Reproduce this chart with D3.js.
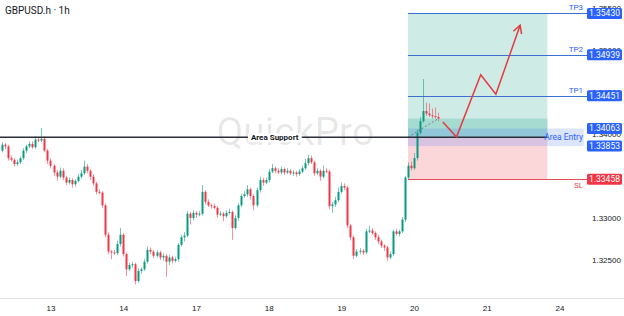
<!DOCTYPE html>
<html>
<head>
<meta charset="utf-8">
<script src="https://cdn.jsdelivr.net/npm/d3@7"></script>
<style>
  html, body { margin: 0; padding: 0; background: #fff; }
  svg { display: block; font-family: Roboto, "Noto Sans", sans-serif; }
</style>
</head>
<body>
<svg id="chart" width="624" height="316"></svg>
<script>
// hourly closes, from Fri 12th 08:00 to Tue 20th 08:00
const closes = [
  1.3387, 1.3385, 1.3371, 1.3369, 1.3364, 1.3366, 1.3371, 1.3380, 1.3385, 1.3388,
  1.3384, 1.3393, 1.3392, 1.3394, 1.3380, 1.3368, 1.3362, 1.3354, 1.3349, 1.3356,
  1.3348, 1.3342, 1.3345, 1.3340, 1.3344, 1.3349, 1.3353, 1.3361, 1.3356, 1.3349,
  1.3341, 1.3331, 1.3330, 1.3315, 1.3280, 1.3260, 1.3259, 1.3258, 1.3269, 1.3280,
  1.3257, 1.3239, 1.3244, 1.3245, 1.3225, 1.3237, 1.3239, 1.3248, 1.3262, 1.3260,
  1.3255, 1.3259, 1.3253, 1.3255, 1.3248, 1.3253, 1.3249, 1.3251, 1.3268, 1.3277,
  1.3279, 1.3305, 1.3300, 1.3306, 1.3304, 1.3305, 1.3331, 1.3319, 1.3315, 1.3314,
  1.3312, 1.3304, 1.3305, 1.3302, 1.3306, 1.3307, 1.3288, 1.3300, 1.3315, 1.3326,
  1.3328, 1.3334, 1.3326, 1.3315, 1.3333, 1.3345, 1.3342, 1.3345, 1.3355, 1.3359,
  1.3356, 1.3354, 1.3358, 1.3354, 1.3356, 1.3353, 1.3354, 1.3352, 1.3355, 1.3359,
  1.3365, 1.3371, 1.3366, 1.3353, 1.3356, 1.3349, 1.3356, 1.3355, 1.3314, 1.3316,
  1.3321, 1.3331, 1.3338, 1.3336, 1.3291, 1.3277, 1.3255, 1.3260, 1.3261, 1.3259,
  1.3284, 1.3285, 1.3282, 1.3277, 1.3272, 1.3267, 1.3265, 1.3253, 1.3257, 1.3284,
  1.3281, 1.3284, 1.3298, 1.3348, 1.3362, 1.3359, 1.3371, 1.3401, 1.3415, 1.3427,
  1.3424, 1.3422, 1.3421, 1.3420, 1.3418
];
const firstOpen = 1.3380;

// wick lengths above / below the body, in pips
const wickUp = [
  3,2,2,3,2,3,2,3,2,3, 3,4,3,13,3,2,3,2,3,4, 3,2,3,2,2,3,4,7,3,2,
  3,2,3,2,2,3,2,3,4,8, 2,2,3,3,2,3,2,3,4,3, 2,3,2,3,2,3,2,3,2,3,
  4,3,2,3,2,3,8,2,3,2, 3,2,3,2,3,4,2,3,2,3, 4,5,2,2,3,4,3,3,3,5,
  2,3,3,2,3,2,3,2,3,3, 5,4,3,2,3,2,6,3,2,3, 4,5,4,3,2,2,2,3,3,2,
  3,6,3,2,3,2,2,2,3,2, 3,2,3,2,4,5,6,4,5,38, 10,12,8,10,5
];
const wickDn = [
  2,3,3,2,3,2,2,2,3,2, 2,2,2,2,2,4,3,4,5,2, 3,3,2,4,3,2,2,2,3,4,
  3,3,2,3,3,3,8,2,2,3, 3,8,2,3,4,2,3,2,2,3, 3,2,3,4,18,4,3,2,3,2,
  5,2,8,3,4,2,2,3,2,3, 2,4,2,6,2,2,14,2,3,2, 2,3,4,6,2,3,4,2,3,2,
  3,2,2,3,2,2,3,3,2,2, 2,3,2,3,2,5,2,2,4,8, 3,2,2,3,3,4,4,2,3,3,
  2,2,2,3,3,3,4,4,2,2, 2,3,2,3,2,3,2,3,2,2, 3,2,3,2,3
];

// day labels on the time axis (hour index of midnight)
const dayIdx = [16, 40, 64, 88, 112, 136, 160, 184];
const dayLabels = ["13", "14", "17", "18", "19", "20", "21", "24"];
const priceTicks = [1.325, 1.330, 1.335, 1.340, 1.345, 1.350, 1.355];

// trade plan
const supportPrice = 1.33958;
const entryTop = 1.34063;
const entryBottom = 1.33853;
const entryPrice = 1.33958;
const targets = [
  { name: "TP1", price: 1.34451 },
  { name: "TP2", price: 1.34939 },
  { name: "TP3", price: 1.35430 }
];
const stopLoss = 1.33458;
const planStart = 134, planEnd = 180, entryBoxEnd = 192;

// projected path
const projIdx = [145.5, 150, 158, 163, 171];
const projPrice = [1.3414, 1.3396, 1.3470, 1.3447, 1.3529];

const W = 624, H = 316, axisX = 587, axisY = 298;
const green = "#089981", red = "#f23645", blue = "#2962ff";

const svg = d3.select("#chart");
const x = d3.scaleLinear().domain([0, 184]).range([2, 559.5]);
const y = d3.scaleLinear().domain([1.325, 1.355]).range([260, 7.5]);

// build candles
const pip = 0.0001;
const candles = closes.map((c, i) => {
  const o = i === 0 ? firstOpen : closes[i - 1];
  return {
    i: i, o: o, c: c,
    h: Math.max(o, c) + wickUp[i] * pip,
    l: Math.min(o, c) - wickDn[i] * pip
  };
});
const last = candles[candles.length - 1];

svg.append("rect").attr("width", W).attr("height", H).attr("fill", "#fff");

// watermark
svg.append("text")
  .attr("x", x(70.8)).attr("y", y(1.3387))
  .attr("font-size", 39)
  .attr("fill", "#000").attr("fill-opacity", 0.09)
  .text("QuickPro");

// position boxes
svg.append("rect")
  .attr("x", x(planStart)).attr("width", x(planEnd) - x(planStart))
  .attr("y", y(targets[2].price)).attr("height", y(entryPrice) - y(targets[2].price))
  .attr("fill", green).attr("fill-opacity", 0.2);
svg.append("rect")
  .attr("x", x(planStart)).attr("width", x(planEnd) - x(planStart))
  .attr("y", y(last.c)).attr("height", y(entryPrice) - y(last.c))
  .attr("fill", green).attr("fill-opacity", 0.2);
svg.append("rect")
  .attr("x", x(planStart)).attr("width", x(planEnd) - x(planStart))
  .attr("y", y(entryPrice)).attr("height", y(stopLoss) - y(entryPrice))
  .attr("fill", red).attr("fill-opacity", 0.2);
svg.append("rect")
  .attr("x", x(planStart)).attr("width", x(entryBoxEnd) - x(planStart))
  .attr("y", y(entryTop)).attr("height", y(entryBottom) - y(entryTop))
  .attr("fill", blue).attr("fill-opacity", 0.17);

// candles
const cg = svg.append("g");
cg.selectAll("line").data(candles).enter().append("line")
  .attr("x1", d => Math.round(x(d.i)) + 0.5).attr("x2", d => Math.round(x(d.i)) + 0.5)
  .attr("y1", d => y(d.h)).attr("y2", d => y(d.l))
  .attr("stroke", d => d.c >= d.o ? green : red)
  .attr("stroke-opacity", 0.55).attr("stroke-width", 1);
cg.selectAll("rect").data(candles).enter().append("rect")
  .attr("x", d => Math.round(x(d.i)) - 0.5).attr("width", 2)
  .attr("y", d => y(Math.max(d.o, d.c)))
  .attr("height", d => Math.max(1, Math.abs(y(d.o) - y(d.c))))
  .attr("fill", d => d.c >= d.o ? green : red);

// dotted line from entry to current price
svg.append("line")
  .attr("x1", x(planStart)).attr("y1", y(entryPrice))
  .attr("x2", x(last.i)).attr("y2", y(last.c))
  .attr("stroke", "#787b86").attr("stroke-width", 1)
  .attr("stroke-dasharray", "2,2");

// area support
svg.append("line")
  .attr("x1", 0).attr("x2", x(planEnd))
  .attr("y1", y(supportPrice)).attr("y2", y(supportPrice))
  .attr("stroke", "#2a2e39").attr("stroke-width", 1.5);
const sup = svg.append("text")
  .attr("x", x(90)).attr("y", y(supportPrice) + 3)
  .attr("text-anchor", "middle").attr("font-size", 8).attr("font-weight", "bold")
  .attr("fill", "#131722").text("Area Support");
const sb = sup.node().getBBox();
svg.insert("rect", "text:last-of-type")
  .attr("x", sb.x - 3).attr("y", sb.y).attr("width", sb.width + 6).attr("height", sb.height)
  .attr("fill", "#fff");

// TP and SL lines
targets.forEach(t => {
  svg.append("line")
    .attr("x1", x(planStart)).attr("x2", axisX)
    .attr("y1", Math.round(y(t.price)) + 0.5).attr("y2", Math.round(y(t.price)) + 0.5)
    .attr("stroke", "#3d6fd0").attr("stroke-width", 1.2);
  svg.append("text")
    .attr("x", axisX - 4).attr("y", y(t.price) - 3)
    .attr("text-anchor", "end").attr("font-size", 8).attr("fill", blue)
    .text(t.name);
});
svg.append("line")
  .attr("x1", x(planStart)).attr("x2", axisX)
  .attr("y1", Math.round(y(stopLoss)) + 0.5).attr("y2", Math.round(y(stopLoss)) + 0.5)
  .attr("stroke", "#e0505c").attr("stroke-width", 1.2);
svg.append("text")
  .attr("x", axisX - 4).attr("y", y(stopLoss) + 9)
  .attr("text-anchor", "end").attr("font-size", 8).attr("fill", "#e0505c")
  .text("SL");
svg.append("text")
  .attr("x", axisX - 4).attr("y", y((entryTop + entryBottom) / 2) + 3)
  .attr("text-anchor", "end").attr("font-size", 8.5).attr("fill", blue)
  .text("Area Entry");

// projected path with arrow head
const pts = projIdx.map((d, i) => [x(d), y(projPrice[i])]);
svg.append("path")
  .attr("d", d3.line()(pts))
  .attr("fill", "none").attr("stroke", "#e53940").attr("stroke-width", 1.5);
const a = pts[pts.length - 1], b = pts[pts.length - 2];
const ang = Math.atan2(a[1] - b[1], a[0] - b[0]);
const head = [
  [a[0] - 9 * Math.cos(ang - 0.5), a[1] - 9 * Math.sin(ang - 0.5)],
  a,
  [a[0] - 9 * Math.cos(ang + 0.5), a[1] - 9 * Math.sin(ang + 0.5)]
];
svg.append("path")
  .attr("d", d3.line()(head))
  .attr("fill", "none").attr("stroke", "#e53940").attr("stroke-width", 1.5);

// price axis
const ya = svg.append("g")
  .attr("transform", `translate(${axisX},0)`)
  .call(d3.axisRight(y).tickValues(priceTicks).tickFormat(d3.format(".5f")).tickSize(0).tickPadding(5));
ya.select(".domain").remove();
ya.selectAll("text").attr("font-size", 8).attr("fill", "#131722").attr("font-family", null);

// price labels
const tags = targets.map(t => ({ p: t.price, c: blue }))
  .concat([{ p: entryTop, c: blue }, { p: entryBottom, c: blue }, { p: stopLoss, c: red }]);
tags.forEach(t => {
  svg.append("rect")
    .attr("x", axisX).attr("y", y(t.p) - 5.5).attr("width", 35).attr("height", 11)
    .attr("rx", 1.5).attr("fill", t.c);
  svg.append("text")
    .attr("x", axisX + 17.5).attr("y", y(t.p) + 3)
    .attr("text-anchor", "middle").attr("font-size", 8.5).attr("fill", "#fff")
    .text(d3.format(".5f")(t.p));
});

// time axis
svg.append("line")
  .attr("x1", 0).attr("x2", W).attr("y1", axisY + 0.5).attr("y2", axisY + 0.5)
  .attr("stroke", "#e0e3eb");
const xa = svg.append("g")
  .attr("transform", `translate(0,${axisY})`)
  .call(d3.axisBottom(x).tickValues(dayIdx).tickFormat((d, i) => dayLabels[i]).tickSize(0).tickPadding(7));
xa.select(".domain").remove();
xa.selectAll("text").attr("font-size", 8).attr("fill", "#131722").attr("font-family", null);

// title
svg.append("text")
  .attr("x", 5).attr("y", 14)
  .attr("font-size", 10).attr("fill", "#131722")
  .text("GBPUSD.h · 1h");
</script>
</body>
</html>
